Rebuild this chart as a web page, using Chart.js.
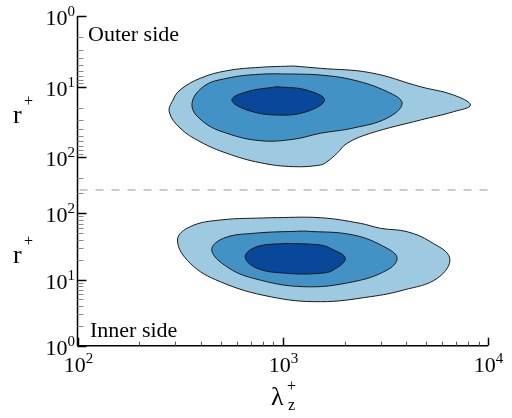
<!DOCTYPE html>
<html>
<head>
<meta charset="utf-8">
<script src="https://cdn.jsdelivr.net/npm/chart.js@4.4.0/dist/chart.umd.min.js"></script>
<style>
  html, body { margin: 0; padding: 0; background: #fff; }
  #wrap { width: 512px; height: 418px; }
</style>
</head>
<body>
<div id="wrap"><canvas id="myChart" width="512" height="418"></canvas></div>
<script>
// contour outlines, lambda_z+ and r+
var outerLightLam = [1125, 1524, 2672, 4685, 6786, 8213, 6786, 4685, 2672, 2057, 1839, 1643, 1524, 1125, 777, 534, 396, 316, 280, 292, 316, 396, 534, 777, 1125];
var outerLightR   = [5.12, 5.52, 6.37, 10.07, 13.2, 18.3, 22.8, 29.9, 46.1, 63.9, 88.6, 116.6, 130, 137, 120.5, 88.6, 60.7, 38.8, 23, 15.5, 11.2, 7.65, 5.97, 5.34, 5.12];
var outerMidLam   = [1125, 1524, 2208, 3230, 3815, 3230, 2208, 1524, 1125, 777, 534, 410, 361, 410, 534, 777, 1125];
var outerMidR     = [6.65, 6.87, 8.09, 11.85, 17.3, 28.0, 38.8, 46.1, 56.1, 58.7, 46.1, 31.6, 18.3, 10.07, 7.65, 6.7, 6.65];
var outerDarkLam  = [937, 1302, 1599, 1302, 937, 669, 565, 669, 937];
var outerDarkR    = [10.07, 11.2, 15.5, 22.8, 25.4, 21.5, 15.5, 11.85, 10.07];

var innerLightLam = [869, 1524, 2388, 2990, 4035, 5243, 6512, 5653, 3884, 2672, 1524, 869, 496, 354, 307, 354, 496, 869];
var innerLightR   = [85.8, 85.8, 70.6, 59.4, 52.7, 37.2, 20.9, 10.4, 6.94, 5.5, 4.62, 5.5, 9.26, 17.6, 39.5, 62.8, 79.2, 85.8];
var innerMidLam   = [1263, 2208, 3224, 3607, 3224, 2208, 1263, 721, 534, 451, 514, 721, 1263];
var innerMidR     = [54.0, 47.0, 29.6, 20.9, 13.9, 9.26, 7.78, 10.4, 15.6, 27.9, 41.9, 49.9, 54.0];
var innerDarkLam  = [1048, 1524, 1705, 2018, 1763, 1524, 1048, 748, 656, 748, 1048];
var innerDarkR    = [35.2, 33.2, 29.6, 20.9, 13.9, 12.4, 12.4, 14.8, 22.1, 31.3, 35.2];

var xTicks = [100, 1000, 10000];
var xMinor = [200, 300, 400, 500, 600, 700, 800, 900, 2000, 3000, 4000, 5000, 6000, 7000, 8000, 9000];
var yTicks = [1, 10, 100];
var yMinor = [2, 3, 4, 5, 6, 7, 8, 9, 20, 30, 40, 50, 60, 70, 80, 90, 200];

var levelColors = ['#9ecae1', '#4292c6', '#08479a'];

var SERIF = "'Liberation Serif', 'DejaVu Serif', serif";

function pts(lam, r) {
  var out = [];
  for (var i = 0; i < lam.length; i++) out.push({x: lam[i], y: r[i]});
  return out;
}

function contour(lam, r, level, axis) {
  return {
    data: pts(lam, r),
    yAxisID: axis,
    showLine: true,
    fill: 'shape',
    backgroundColor: levelColors[level],
    borderColor: '#1a1a1a',
    borderWidth: 1,
    tension: 0.4,
    pointRadius: 0,
    order: 3 - level
  };
}

function drawPow(ctx, exp, x, y, align) {
  ctx.font = '22px ' + SERIF;
  var w1 = ctx.measureText('10').width;
  ctx.font = '15px ' + SERIF;
  var w2 = ctx.measureText(exp).width;
  var start = align === 'right' ? x - w1 - w2 : x - (w1 + w2) / 2;
  ctx.textAlign = 'left';
  ctx.font = '22px ' + SERIF;
  ctx.fillText('10', start, y);
  ctx.font = '15px ' + SERIF;
  ctx.fillText(exp, start + w1, y - 9);
}

function tick(ctx, x1, y1, x2, y2, color, width) {
  ctx.strokeStyle = color;
  ctx.lineWidth = width;
  ctx.beginPath();
  ctx.moveTo(x1, y1);
  ctx.lineTo(x2, y2);
  ctx.stroke();
}

var axisDecor = {
  id: 'axisDecor',
  afterDraw: function(chart) {
    var ctx = chart.ctx;
    var sx = chart.scales.x, yUp = chart.scales.yUp, yLow = chart.scales.yLow;
    var area = chart.chartArea;
    var left = area.left, bottom = area.bottom;
    ctx.save();
    ctx.fillStyle = '#000';
    ctx.textBaseline = 'alphabetic';

    // divider between the two panels
    ctx.setLineDash([8, 8]);
    tick(ctx, left + 2, yUp.bottom, area.right, yUp.bottom, '#999', 1);
    ctx.setLineDash([]);

    // x axis
    tick(ctx, left, bottom, area.right, bottom, '#000', 1.5);
    xMinor.forEach(function(v) {
      var px = Math.round(sx.getPixelForValue(v)) + 0.5;
      tick(ctx, px, bottom, px, bottom - 4, '#555', 1);
    });
    xTicks.forEach(function(v, i) {
      var px = Math.round(sx.getPixelForValue(v)) + 0.5;
      tick(ctx, px, bottom, px, bottom - 8, '#000', 1.5);
      drawPow(ctx, String(i + 2), px, bottom + 26, 'center');
    });

    // y axis (both panels)
    tick(ctx, left, area.top, left, bottom, '#000', 1.5);
    [yUp, yLow].forEach(function(s) {
      yMinor.forEach(function(v) {
        if (v > s.max) return;
        var py = Math.round(s.getPixelForValue(v)) + 0.5;
        tick(ctx, left, py, left + 6, py, '#888', 1);
      });
      yTicks.forEach(function(v, i) {
        var py = Math.round(s.getPixelForValue(v)) + 0.5;
        tick(ctx, left, py, left + 9, py, '#000', 1.5);
        drawPow(ctx, String(i), 75, py + 8.5, 'right');
      });
    });

    // axis titles
    ctx.textAlign = 'left';
    ctx.font = '26px ' + SERIF;
    ctx.fillText('r', 13, 123);
    ctx.fillText('r', 13, 263);
    ctx.font = '16px ' + SERIF;
    ctx.fillText('+', 24, 106);
    ctx.fillText('+', 24, 246);

    ctx.font = '26px ' + SERIF;
    ctx.fillText('\u03bb', 271, 405);
    ctx.font = '16px ' + SERIF;
    ctx.fillText('+', 287, 391);
    ctx.fillText('z', 288, 410);

    // panel notes
    ctx.font = '22px ' + SERIF;
    ctx.fillText('Outer side', 88, 41);
    ctx.fillText('Inner side', 90, 337);
    ctx.restore();
  }
};

var ctx = document.getElementById('myChart').getContext('2d');
var myChart = new Chart(ctx, {
  type: 'scatter',
  data: {
    datasets: [
      contour(outerLightLam, outerLightR, 0, 'yUp'),
      contour(outerMidLam, outerMidR, 1, 'yUp'),
      contour(outerDarkLam, outerDarkR, 2, 'yUp'),
      contour(innerLightLam, innerLightR, 0, 'yLow'),
      contour(innerMidLam, innerMidR, 1, 'yLow'),
      contour(innerDarkLam, innerDarkR, 2, 'yLow')
    ]
  },
  options: {
    responsive: false,
    animation: false,
    devicePixelRatio: 1,
    layout: { padding: { left: 77.5, right: 24, top: 16, bottom: 72.3 } },
    plugins: { legend: { display: false }, tooltip: { enabled: false } },
    scales: {
      x: {
        type: 'logarithmic', min: 100, max: 10000,
        grid: { display: false, drawTicks: false },
        border: { display: false },
        ticks: { display: false }
      },
      // later stacked axis is placed on top, so the inner panel goes first
      yLow: {
        type: 'logarithmic', position: 'left', stack: 'r', stackWeight: 155.7,
        min: 1, max: 224.9,
        grid: { display: false, drawTicks: false },
        border: { display: false },
        ticks: { display: false }
      },
      yUp: {
        type: 'logarithmic', position: 'left', stack: 'r', stackWeight: 174,
        reverse: true, min: 1, max: 293.8,
        grid: { display: false, drawTicks: false },
        border: { display: false },
        ticks: { display: false }
      }
    }
  },
  plugins: [axisDecor]
});
</script>
</body>
</html>
